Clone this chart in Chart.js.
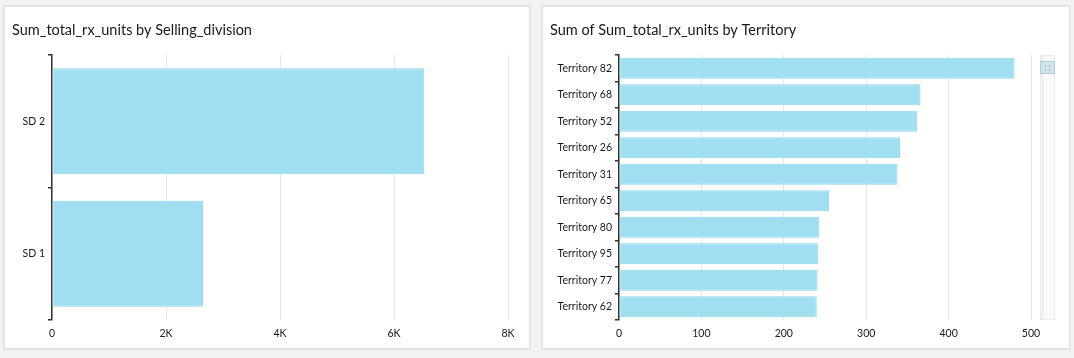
<!DOCTYPE html>
<html>
<head>
<meta charset="utf-8">
<script src="https://cdn.jsdelivr.net/npm/chart.js@4"></script>
<style>
  html, body { margin: 0; padding: 0; background: #f2f2f2; }
  body { width: 1074px; height: 358px; position: relative; overflow: hidden; }
  .panel { position: absolute; background: #fff; border: 2px solid #e4e4e4; box-sizing: border-box; }
  .box { position: absolute; }
</style>
</head>
<body>
<div class="panel" style="left:3px; top:5px; width:528px; height:345px;"></div>
<div class="panel" style="left:541px; top:5px; width:530px; height:345px;"></div>
<div class="box" style="left:5px; top:7px; width:524px; height:341px;"><canvas id="divisionChart"></canvas></div>
<div class="box" style="left:543px; top:7px; width:525px; height:341px;"><canvas id="territoryChart"></canvas></div>

<script>
// values
const divisions = ['SD 2', 'SD 1'];
const divisionUnits = [6530, 2650];
const divisionTicks = ['0', '2K', '4K', '6K', '8K'];

const territories = ['Territory 82', 'Territory 68', 'Territory 52', 'Territory 26', 'Territory 31',
                     'Territory 65', 'Territory 80', 'Territory 95', 'Territory 77', 'Territory 62'];
const territoryUnits = [480, 366, 362, 341, 338, 255, 243, 242, 241, 240];
const territoryTicks = ['0', '100', '200', '300', '400', '500'];

const FONT = 'Lato, "Noto Sans", sans-serif';
const TEXT = '#16191f';
const BAR_FILL = '#a0dff1';
const BAR_EDGE = '#92d9ee';

Chart.defaults.font.family = FONT;
Chart.defaults.color = TEXT;

// little scroll bar on the right of the territory chart
const scrollBar = {
    id: 'scrollBar',
    afterDraw(chart) {
        const { ctx, chartArea } = chart;
        const x = chartArea.right + 9;
        ctx.save();
        ctx.fillStyle = '#fafafa';
        ctx.fillRect(x, chartArea.top, 15, chartArea.bottom - chartArea.top);
        ctx.strokeStyle = '#ebebeb';
        ctx.lineWidth = 1;
        ctx.strokeRect(x + 0.5, chartArea.top + 0.5, 14, chartArea.bottom - chartArea.top - 1);
        ctx.fillStyle = '#efefef';
        ctx.fillRect(x + 1, chartArea.top + 1, 3, chartArea.bottom - chartArea.top - 2);
        // thumb
        ctx.fillStyle = '#d3e3ec';
        ctx.fillRect(x, chartArea.top + 6, 15, 13);
        ctx.strokeStyle = '#b4cbd8';
        ctx.strokeRect(x + 0.5, chartArea.top + 6.5, 14, 12);
        ctx.fillStyle = '#7f8f99';
        [[-2, -2], [2, -2], [-2, 2], [2, 2]].forEach(([dx, dy]) => {
            ctx.fillRect(x + 7 + dx, chartArea.top + 12.5 + dy, 1, 1);
        });
        ctx.restore();
    }
};

function barChart(id, labels, values, tickLabels, opts) {
    const ctx = document.getElementById(id).getContext('2d');
    return new Chart(ctx, {
        type: 'bar',
        data: {
            labels: labels,
            datasets: [{
                data: values,
                backgroundColor: BAR_FILL,
                borderColor: BAR_EDGE,
                borderWidth: 1,
                borderSkipped: false,
                barPercentage: 0.8,
                categoryPercentage: 1.0
            }]
        },
        options: {
            indexAxis: 'y',
            responsive: true,
            maintainAspectRatio: false,
            animation: false,
            layout: { padding: { left: 7, right: opts.right, top: 0, bottom: 0 } },
            plugins: {
                legend: { display: false },
                tooltip: { enabled: false },
                title: {
                    display: true,
                    text: opts.title,
                    align: 'start',
                    color: TEXT,
                    font: { size: 14.5, weight: 'normal' },
                    padding: { top: 15, bottom: 15.6 }
                }
            },
            scales: {
                x: {
                    min: 0,
                    max: opts.max,
                    ticks: {
                        stepSize: opts.step,
                        padding: 7,
                        font: { size: 10.5 },
                        color: TEXT,
                        maxRotation: 0,
                        callback: (v, i) => tickLabels[i]
                    },
                    grid: { color: '#e6e6e6', lineWidth: 1, drawTicks: false },
                    border: { display: false },
                    afterFit: s => { s.height = 28; }
                },
                y: {
                    ticks: { padding: 3, font: { size: 10.5 }, color: TEXT },
                    grid: {
                        offset: true,
                        drawOnChartArea: false,
                        drawTicks: true,
                        tickLength: 4,
                        color: '#333',
                        lineWidth: 1.5
                    },
                    border: { display: true, color: '#333', width: 1.5 },
                    afterFit: s => { s.width = opts.axisWidth; }
                }
            }
        },
        plugins: opts.plugins || []
    });
}

barChart('divisionChart', divisions, divisionUnits, divisionTicks, {
    title: 'Sum_total_rx_units by Selling_division',
    max: 8000, step: 2000, right: 21, axisWidth: 40
});

barChart('territoryChart', territories, territoryUnits, territoryTicks, {
    title: 'Sum of Sum_total_rx_units by Territory',
    max: 500, step: 100, right: 37, axisWidth: 69,
    plugins: [scrollBar]
});
</script>
</body>
</html>
